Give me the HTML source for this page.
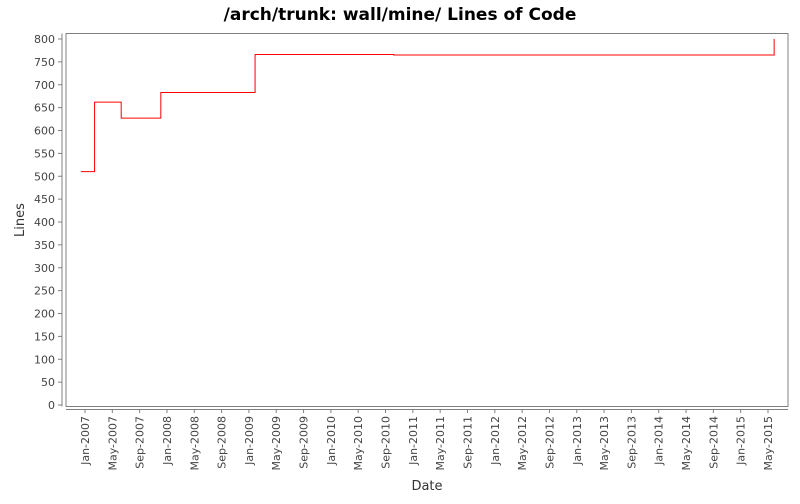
<!DOCTYPE html>
<html><head><meta charset="utf-8"><style>
body{margin:0;background:#fff;font-family:"DejaVu Sans","Liberation Sans",sans-serif}
</style></head><body>
<svg id="chart" width="800" height="500" xmlns="http://www.w3.org/2000/svg" font-family="DejaVu Sans, Liberation Sans, sans-serif">
<text x="400" y="20" text-anchor="middle" font-size="17" font-weight="bold" fill="#000">/arch/trunk: wall/mine/ Lines of Code</text>
<rect x="66" y="33.5" width="722" height="373" fill="#fff" stroke="#808080" stroke-width="1"/>
<text transform="translate(24,220) rotate(-90)" text-anchor="middle" font-size="13" fill="#333">Lines</text>
<text x="427" y="490" text-anchor="middle" font-size="13" fill="#333">Date</text>
<g id="axes"></g>
<g id="series"></g>
</svg>
<script>
// months since Jan-2007
const stepMonths = [-0.6, 1.4, 5.3, 11.1, 24.9, 45.2, 100.9];
const stepValues = [510, 662, 627, 683, 766, 765, 800];
const yTicks = [0,50,100,150,200,250,300,350,400,450,500,550,600,650,700,750,800];
const xTickLabels = ["Jan-2007","May-2007","Sep-2007","Jan-2008","May-2008","Sep-2008","Jan-2009","May-2009","Sep-2009","Jan-2010","May-2010","Sep-2010","Jan-2011","May-2011","Sep-2011","Jan-2012","May-2012","Sep-2012","Jan-2013","May-2013","Sep-2013","Jan-2014","May-2014","Sep-2014","Jan-2015","May-2015"];

const NS="http://www.w3.org/2000/svg";
const xs = m => 85 + m*6.83;
const ys = v => 405 - v*0.4575;
const axes=document.getElementById('axes'), series=document.getElementById('series');
function mk(tag,attrs,parent){const e=document.createElementNS(NS,tag);for(const k in attrs)e.setAttribute(k,attrs[k]);parent.appendChild(e);return e;}

let l=mk('line',{x1:62,y1:33.5,x2:62,y2:406.5,stroke:'#808080'},axes);


l=mk('line',{x1:66,y1:409.5,x2:788,y2:409.5,stroke:'#808080'},axes);



yTicks.forEach(v=>{
  const y=ys(v);
  const t=mk('line',{x1:58,y1:y,x2:62,y2:y,stroke:'#808080'},axes);
  
  
  const tx=mk('text',{x:55,y:y+4,'text-anchor':'end','font-size':'11',fill:'#444'},axes);
  tx.textContent=v;
  
  
});
xTickLabels.forEach((lab,i)=>{
  const x=xs(i*4);
  const t=mk('line',{x1:x,y1:409.5,x2:x,y2:413,stroke:'#808080'},axes);
  
  
  const tx=mk('text',{transform:`translate(${x+4},416) rotate(-90)`,'text-anchor':'end','font-size':'11',fill:'#444'},axes);
  tx.textContent=lab;
  
  
});

let d='';
stepMonths.forEach((m,i)=>{
  const x=xs(m), y=ys(stepValues[i]);
  if(i===0) d+=`M${x},${y}`;
  else d+=` H${x} V${y}`;
});
const p=mk('path',{d:d,fill:'none',stroke:'#ff0000','stroke-width':1},series);


</script>
</body></html>
